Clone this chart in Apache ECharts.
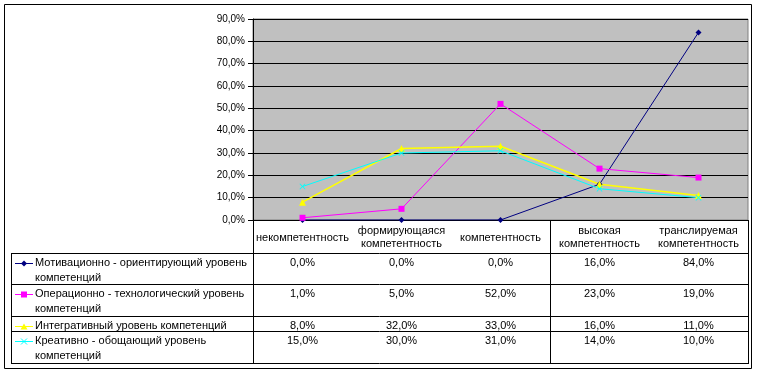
<!DOCTYPE html>
<html>
<head>
<meta charset="utf-8">
<script src="https://cdn.jsdelivr.net/npm/echarts@6/dist/echarts.min.js"></script>
<style>
  html, body { margin: 0; padding: 0; background: #fff; }
  #container { width: 759px; height: 376px; }
</style>
</head>
<body>
<div id="container"></div>
<script>
// categories (header row of the data table)
const categories = ['некомпетентность', 'формирующаяся компетентность', 'компетентность', 'высокая компетентность', 'транслируемая компетентность'];
const seriesNames = [
  'Мотивационно - ориентирующий уровень компетенций',
  'Операционно - технологический уровень компетенций',
  'Интегративный уровень компетенций',
  'Креативно - обощающий уровень компетенций'
];
// legend text as wrapped in the table
const legendLabels = [
  'Мотивационно - ориентирующий уровень\nкомпетенций',
  'Операционно - технологический уровень\nкомпетенций',
  'Интегративный уровень компетенций',
  'Креативно - обощающий уровень\nкомпетенций'
];
const motivational = [0, 0, 0, 16, 84];
const operational = [1, 5, 52, 23, 19];
const integrative = [8, 32, 33, 16, 11];
const creative = [15, 30, 31, 14, 10];
const yTicks = [0, 10, 20, 30, 40, 50, 60, 70, 80, 90];

const values = [motivational, operational, integrative, creative];
const colors = ['#000080', '#FF00FF', '#FFFF00', '#00FFFF'];
const crossPath = 'path://M0,1L1,0L5,4L9,0L10,1L6,5L10,9L9,10L5,6L1,10L0,9L4,5Z';
const symbols = ['diamond', 'rect', 'triangle', crossPath];
const symbolSizes = [6, 6, 7, 6];

const FONT = "'Liberation Sans', Arial, sans-serif";
const fmt = v => v.toFixed(1).replace('.', ',') + '%';

// layout of plot + table
const gLeft = 253, gTop = 19, gWidth = 495, gHeight = 201;
const tableLeft = 11;
const rowLines = [253, 284, 316, 331, 363];
const colW = gWidth / categories.length;

const dom = document.getElementById('container');
const chart = echarts.init(dom, null, { renderer: 'canvas' });

// small legend key marker for the table rows
function keyMarker(i, cx, cy) {
  const fill = { fill: colors[i] };
  if (i === 0) return { type: 'polygon', shape: { points: [[cx, cy - 3], [cx + 3, cy], [cx, cy + 3], [cx - 3, cy]] }, style: fill, z: 11 };
  if (i === 1) return { type: 'rect', shape: { x: cx - 3, y: cy - 3, width: 6, height: 6 }, style: fill, z: 11 };
  if (i === 2) return { type: 'polygon', shape: { points: [[cx, cy - 3], [cx + 3.5, cy + 3], [cx - 3.5, cy + 3]] }, style: fill, z: 11 };
  return { type: 'group', z: 11, children: [
    { type: 'line', shape: { x1: cx - 3, y1: cy - 3, x2: cx + 3, y2: cy + 3 }, style: { stroke: colors[i], lineWidth: 1 }, z: 11 },
    { type: 'line', shape: { x1: cx + 3, y1: cy - 3, x2: cx - 3, y2: cy + 3 }, style: { stroke: colors[i], lineWidth: 1 }, z: 11 }
  ] };
}

let graphics = [];
// outer frame
graphics.push({ type: 'rect', shape: { x: 4.5, y: 4.5, width: 747, height: 364 }, style: { fill: 'none', stroke: '#000', lineWidth: 1 }, z: 0 });
// horizontal table lines
for (let i = 0; i < rowLines.length; i++) {
  graphics.push({ type: 'line', shape: { x1: tableLeft, y1: rowLines[i] + 0.5, x2: gLeft + gWidth, y2: rowLines[i] + 0.5 }, style: { stroke: '#000', lineWidth: 1 }, z: 10 });
}
// left edge of legend column
graphics.push({ type: 'line', shape: { x1: tableLeft + 0.5, y1: rowLines[0], x2: tableLeft + 0.5, y2: rowLines[4] + 1 }, style: { stroke: '#000', lineWidth: 1 }, z: 10 });

// header row: category names
for (let c = 0; c < categories.length; c++) {
  graphics.push({ type: 'text', x: gLeft + colW * (c + 0.5), y: (gTop + gHeight + rowLines[0]) / 2 + 1, style: { text: categories[c].replace(' ', '\n'), font: '11px ' + FONT, fill: '#000', lineHeight: 13, align: 'center', verticalAlign: 'middle' }, z: 10 });
}

for (let s = 0; s < values.length; s++) {
  const top = rowLines[s];
  const cy = top + 10;
  // legend key
  graphics.push({ type: 'line', shape: { x1: 15, y1: cy + 0.5, x2: 33, y2: cy + 0.5 }, style: { stroke: colors[s], lineWidth: 1 }, z: 10 });
  graphics.push(keyMarker(s, 24, cy + 0.5));
  // legend label
  graphics.push({ type: 'text', x: 35, y: top + 3, style: { text: legendLabels[s], font: '11px ' + FONT, fill: '#000', lineHeight: 14.5, verticalAlign: 'top', align: 'left' }, z: 10 });
  // value cells
  for (let c = 0; c < categories.length; c++) {
    graphics.push({ type: 'text', x: gLeft + colW * (c + 0.5), y: cy, style: { text: fmt(values[s][c]), font: '11px ' + FONT, fill: '#000', align: 'center', verticalAlign: 'middle' }, z: 10 });
  }
}

const series = values.map((data, i) => ({
  name: seriesNames[i],
  type: 'line',
  data: data,
  symbol: symbols[i],
  symbolSize: symbolSizes[i],
  showAllSymbol: true,
  lineStyle: { color: colors[i], width: i === 2 ? 1.5 : 1 },
  itemStyle: { color: colors[i] },
  emphasis: { disabled: true },
  animation: false
}));

const option = {
  animation: false,
  backgroundColor: '#fff',
  textStyle: { fontFamily: FONT },
  grid: {
    left: gLeft, top: gTop, width: gWidth, height: gHeight,
    show: true, backgroundColor: '#C0C0C0', borderColor: '#808080', borderWidth: 1
  },
  xAxis: {
    type: 'category',
    data: categories,
    boundaryGap: true,
    axisLine: { lineStyle: { color: '#000', width: 1 } },
    axisTick: { show: true, length: rowLines[4] - (gTop + gHeight) + 1, lineStyle: { color: '#000' } },
    axisLabel: { show: false }
  },
  yAxis: {
    type: 'value',
    min: yTicks[0], max: yTicks[yTicks.length - 1], interval: 10,
    axisLine: { show: true, lineStyle: { color: '#000', width: 1 } },
    axisTick: { show: true, length: 5, lineStyle: { color: '#000' } },
    splitLine: { show: true, lineStyle: { color: '#000', width: 1 } },
    axisLabel: { color: '#000', fontSize: 10, fontFamily: FONT, margin: 8, formatter: v => fmt(v) }
  },
  graphic: graphics,
  series: series
};
chart.setOption(option);
</script>
</body>
</html>
